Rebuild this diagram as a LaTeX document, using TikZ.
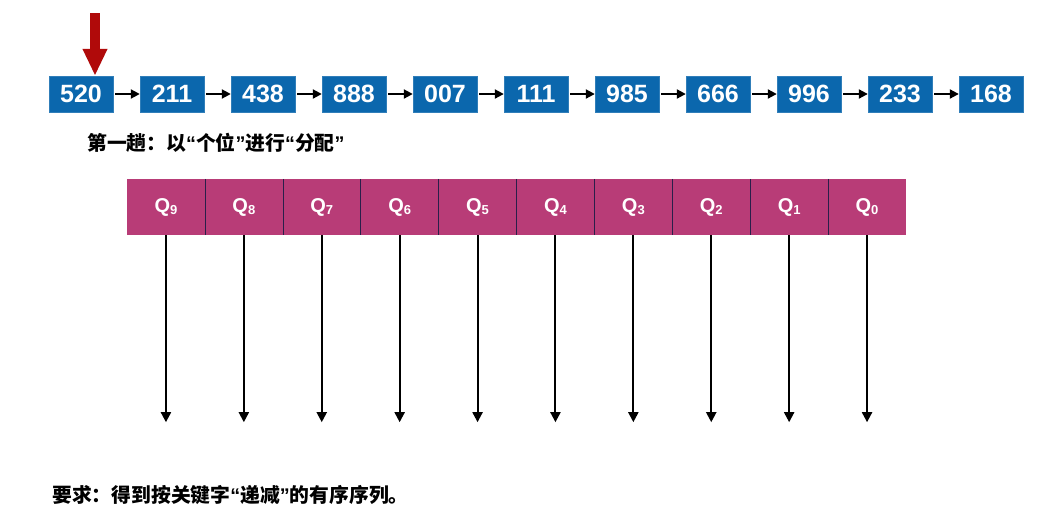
\documentclass[tikz,border=0pt]{standalone}
\usepackage{fontspec}
\setmainfont{Liberation Sans}
\newfontfamily\cjk{Noto Sans CJK SC}
\newfontfamily\latinq{Liberation Sans}
\usetikzlibrary{arrows.meta}
\definecolor{boxblue}{HTML}{0B67AD}
\definecolor{qmag}{HTML}{B83C77}
\definecolor{darkred}{HTML}{B00A0A}
\definecolor{divnavy}{HTML}{2A1F4A}
\tikzset{
  numbox/.style={fill=boxblue, draw=boxblue!85!white, minimum width=64pt, minimum height=36pt, inner sep=0pt, text=white, font=\bfseries\fontsize{25}{25}\selectfont},
  conn/.style={line width=2pt, -{Triangle[length=9pt,width=9pt]}, shorten <=2pt},
  redarrow/.style={darkred, line width=10pt, -{Triangle[length=27pt,width=23pt]}},
  qcell/.style={fill=qmag, minimum width=77.9pt, minimum height=56pt, inner sep=0pt, text=white, font=\bfseries\fontsize{20}{20}\selectfont},
  divider/.style={divnavy, line width=1pt},
  down/.style={line width=2pt, -{Triangle[length=10pt,width=10pt]}},
  cjktext/.style={anchor=west, inner sep=0pt}
}
\newcommand{\qlab}[1]{Q\raisebox{-2pt}{\fontsize{13}{13}\selectfont\bfseries #1}}
\newcommand{\qopen}{{\latinq\bfseries “}}
\newcommand{\qclose}{{\latinq\bfseries ”}}
\begin{document}
\begin{tikzpicture}[x=1pt,y=-1pt]
\useasboundingbox[fill=white] (0,0) rectangle (1051,514);
% linked list
\foreach \v [count=\i from 0] in {520,211,438,888,007,111,985,666,996,233,168}
  \node[numbox] (n\i) at ({81+91*\i},94) {\v};
\foreach \i [evaluate=\i as \j using int(\i+1)] in {0,...,9}
  \draw[conn] (n\i.east) -- (n\j.west);
% red pointer
\coordinate (rtop) at (95,13);
\draw[redarrow] (rtop) -- (rtop |- n0.north);
% caption 1
\node[cjktext] (t1) at (87,143) {\cjk\bfseries\fontsize{19.8}{19.8}\selectfont 第一趟：以\qopen 个位\qclose 进行\qopen 分配\qclose};
% queues
\foreach \i in {0,...,9}{
  \pgfmathtruncatemacro{\k}{9-\i}
  \node[qcell] (q\i) at ({127+38.95+77.9*\i},207) {\qlab{\k}};
}
\foreach \i in {0,...,8}
  \draw[divider] (q\i.north east) -- (q\i.south east);
\foreach \i in {0,...,9}{
  \coordinate (d\i) at ([yshift=-187pt]q\i.south);
  \draw[down] (q\i.south) -- (d\i);
}
% caption 2
\node[cjktext] (t2) at (52,495) {\cjk\bfseries\fontsize{19.8}{19.8}\selectfont 要求：得到按关键字\qopen 递减\qclose 的有序序列。};
\end{tikzpicture}
\end{document}
